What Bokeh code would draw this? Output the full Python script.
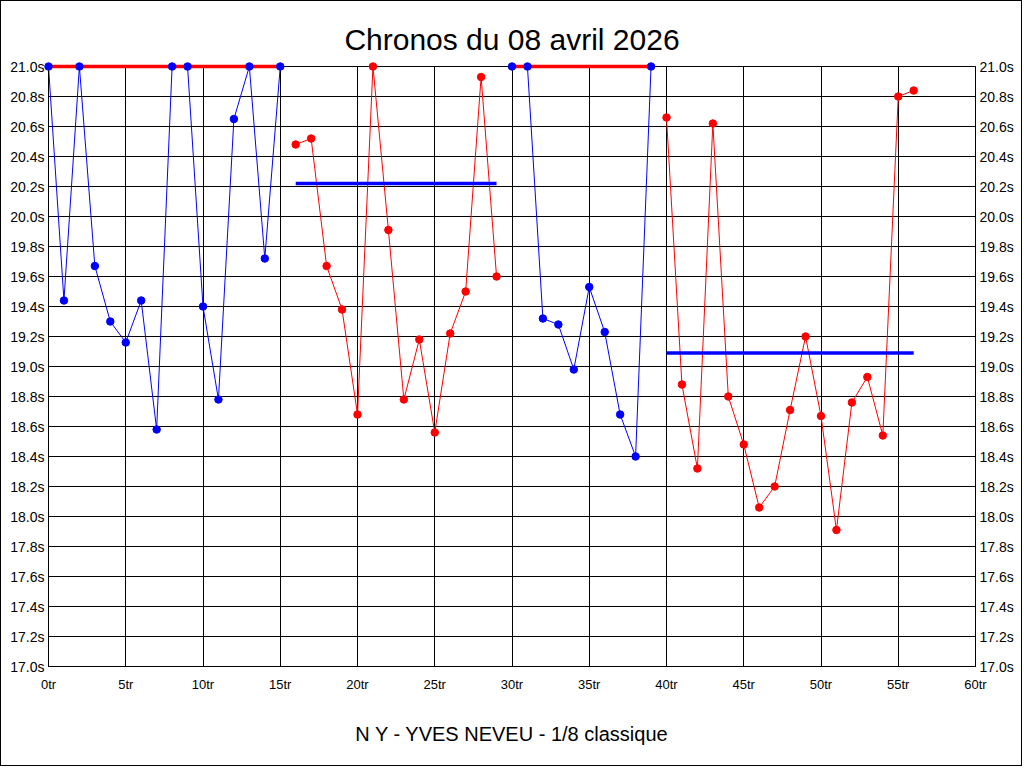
from bokeh.plotting import figure
from bokeh.models import LinearAxis, PrintfTickFormatter, FixedTicker, Range1d, ColumnDataSource
from bokeh.embed import file_html
from bokeh.resources import INLINE

# ---------------- data ----------------
title_text = "Chronos du 08 avril 2026"
subtitle_text = "N Y - YVES NEVEU - 1/8 classique"

x_ticks = [0, 5, 10, 15, 20, 25, 30, 35, 40, 45, 50, 55, 60]
y_ticks = [17.0, 17.2, 17.4, 17.6, 17.8, 18.0, 18.2, 18.4, 18.6, 18.8, 19.0,
           19.2, 19.4, 19.6, 19.8, 20.0, 20.2, 20.4, 20.6, 20.8, 21.0]

# segment 1 (blue)
s1_tr = [0, 1, 2, 3, 4, 5, 6, 7, 8, 9, 10, 11, 12, 13, 14, 15]
s1_time = [21.0, 19.44, 21.0, 19.67, 19.30, 19.16, 19.44, 18.58,
           21.0, 21.0, 19.40, 18.78, 20.65, 21.0, 19.72, 21.0]

# segment 2 (red)
s2_tr = [16, 17, 18, 19, 20, 21, 22, 23, 24, 25, 26, 27, 28, 29]
s2_time = [20.48, 20.52, 19.67, 19.38, 18.68, 21.0, 19.91, 18.78,
           19.18, 18.56, 19.22, 19.50, 20.93, 19.60]

# segment 3 (blue)
s3_tr = [30, 31, 32, 33, 34, 35, 36, 37, 38, 39]
s3_time = [21.0, 21.0, 19.32, 19.28, 18.98, 19.53, 19.23, 18.68, 18.40, 21.0]

# segment 4 (red)
s4_tr = [40, 41, 42, 43, 44, 45, 46, 47, 48, 49, 50, 51, 52, 53, 54, 55, 56]
s4_time = [20.66, 18.88, 18.32, 20.62, 18.80, 18.48, 18.06, 18.20, 18.71,
           19.20, 18.67, 17.91, 18.76, 18.93, 18.54, 20.80, 20.84]

# reference (level) lines per segment
ref_start = [0, 16, 30, 40]
ref_end = [15, 29, 39, 56]
ref_value = [21.0, 20.22, 21.0, 19.09]
ref_color = ["#ff0000", "#0000ff", "#ff0000", "#0000ff"]

series = [
    (s1_tr, s1_time, "#0000ff"),
    (s2_tr, s2_time, "#ff0000"),
    (s3_tr, s3_time, "#0000ff"),
    (s4_tr, s4_time, "#ff0000"),
]

FONT = "Liberation Sans"

# ---------------- figure ----------------
p = figure(
    width=1022, height=766,
    x_range=Range1d(0, 60), y_range=Range1d(17.0, 21.0),
    output_backend="svg", toolbar_location=None,
    min_border_left=47, min_border_right=48,
    min_border_top=65, min_border_bottom=101,
    background_fill_color="white", border_fill_color="white",
    styles={"border": "1px solid black"},
)
p.outline_line_color = "black"
p.outline_line_width = 1

p.title.text = title_text
p.title.align = "center"
p.title.text_font = FONT
p.title.text_font_size = "30px"
p.title.text_font_style = "normal"
p.title.text_color = "black"
p.title.standoff = 22

for g in (p.xgrid, p.ygrid):
    g.grid_line_color = "black"
    g.grid_line_alpha = 1.0
    g.grid_line_width = 1
p.xgrid.ticker = FixedTicker(ticks=x_ticks)
p.ygrid.ticker = FixedTicker(ticks=y_ticks)

def style_axis(ax, size):
    ax.axis_line_color = "black"
    ax.major_tick_line_color = None
    ax.major_tick_in = 0
    ax.major_tick_out = 0
    ax.minor_tick_line_color = None
    ax.major_label_text_font = FONT
    ax.major_label_text_font_size = size
    ax.major_label_text_color = "black"
    ax.major_label_standoff = 4

p.xaxis.ticker = FixedTicker(ticks=x_ticks)
p.xaxis.formatter = PrintfTickFormatter(format="%dtr")
p.yaxis.ticker = FixedTicker(ticks=y_ticks)
p.yaxis.formatter = PrintfTickFormatter(format="%.1fs")
style_axis(p.xaxis[0], "13px")
style_axis(p.yaxis[0], "14px")
p.xaxis.major_label_standoff = 10

p.xaxis.axis_label = subtitle_text
p.xaxis.axis_label_text_font = FONT
p.xaxis.axis_label_text_font_size = "20px"
p.xaxis.axis_label_text_font_style = "normal"
p.xaxis.axis_label_text_color = "black"
p.xaxis.axis_label_standoff = 28

right = LinearAxis(ticker=FixedTicker(ticks=y_ticks),
                   formatter=PrintfTickFormatter(format="%.1fs"))
style_axis(right, "14px")
p.add_layout(right, "right")

# connecting lines
for tr, tm, col in series:
    p.line(tr, tm, line_color=col, line_width=1)

# level lines (drawn unclipped so the 21.0s line shows fully on the frame edge)
ref_src = ColumnDataSource(dict(x0=ref_start, x1=ref_end, y=ref_value, c=ref_color))
p.segment(x0="x0", y0="y", x1="x1", y1="y", line_color="c", line_width=3.5,
          source=ref_src, level="annotation")

# markers
for tr, tm, col in series:
    p.scatter(tr, tm, size=7.5, fill_color=col, line_color=col, marker="circle",
              level="overlay")

open("out.html", "w").write(file_html(p, INLINE))
